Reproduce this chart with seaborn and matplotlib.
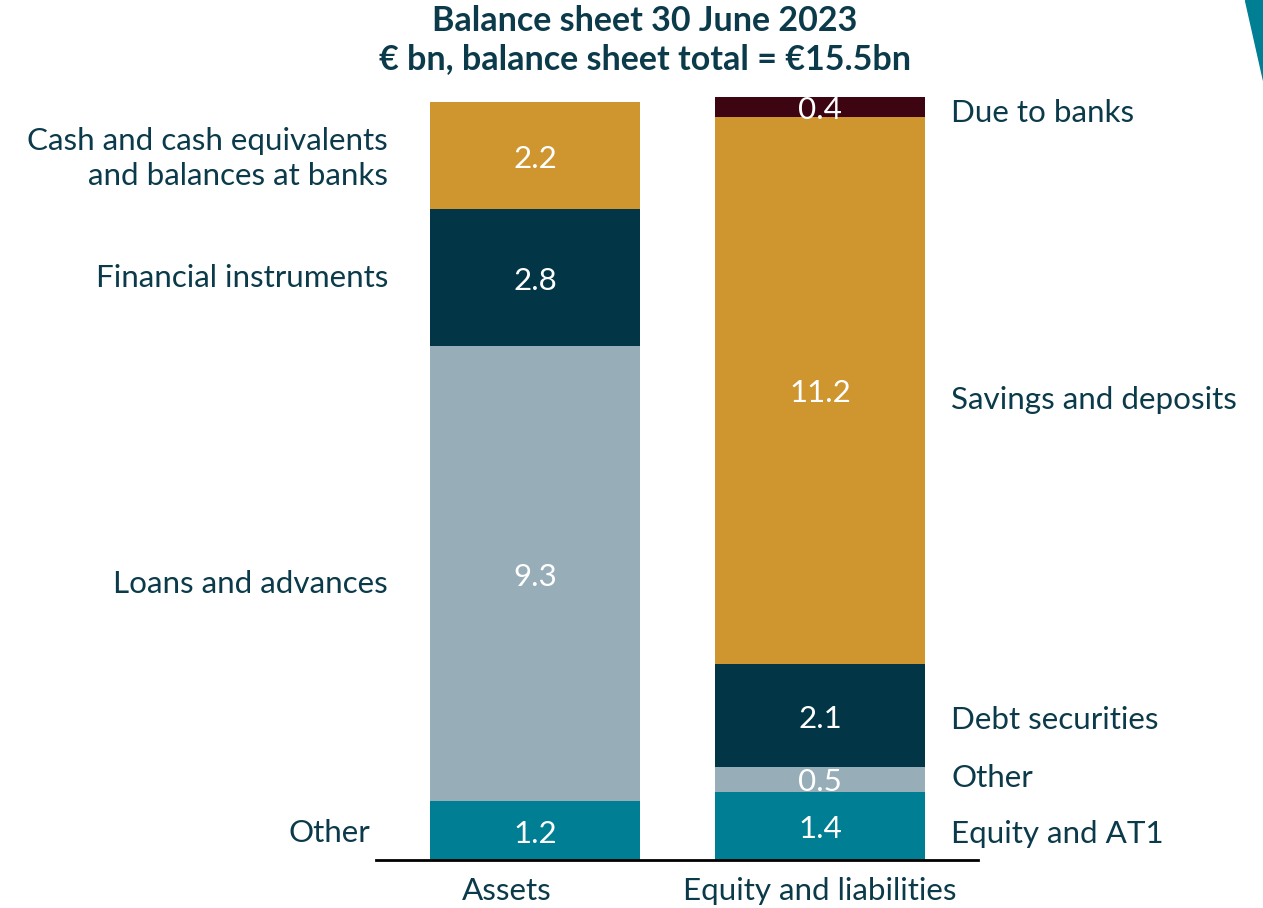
import matplotlib
matplotlib.use("Agg")
import matplotlib.pyplot as plt
import matplotlib.transforms as mtransforms
from matplotlib.patches import Polygon
import seaborn as sns
import numpy as np

columns = ["Assets", "Equity and liabilities"]

# bottom -> top
asset_labels = ["Other", "Loans and advances", "Financial instruments",
                "Cash and cash equivalents\nand balances at banks"]
asset_values = [1.2, 9.3, 2.8, 2.2]
asset_colors = ["#007E93", "#97ADB8", "#023646", "#CF952F"]

liab_labels = ["Equity and AT1", "Other", "Debt securities",
               "Savings and deposits", "Due to banks"]
liab_values = [1.4, 0.5, 2.1, 11.2, 0.4]
liab_colors = ["#007E93", "#97ADB8", "#023646", "#CF952F", "#3D0512"]

title = "Balance sheet 30 June 2023\n€ bn, balance sheet total = €15.5bn"

TXT = "#0B3A4A"
sns.set_theme(style="white")
plt.rcParams["font.family"] = ["Lato", "DejaVu Sans"]

W, H = 1263, 908
fig = plt.figure(figsize=(W / 100, H / 100), dpi=100)
ax = fig.add_axes([376 / W, (H - 860) / H, (978 - 376) / W, (860 - 97) / H])

bw = 0.737
fs = 22.6

# small nudges (pixels) of side labels, bottom -> top
asset_nudge_y = [-2, -10, 0, -3]
asset_nudge_x = [-18, 0, 0, 0]
liab_nudge_y = [-8, 1, -4, -10, -6]

def draw_stack(col_idx, labels, values, colors, side, ny, nx=None):
    tops = np.cumsum(values)
    bottoms = tops - np.array(values)
    for i in range(len(values) - 1, -1, -1):
        sns.barplot(x=[columns[col_idx]], y=[tops[i]], order=columns,
                    color=colors[i], width=bw, saturation=1, ax=ax,
                    edgecolor="none", linewidth=0)
    for i, v in enumerate(values):
        mid = (bottoms[i] + tops[i]) / 2
        ax.annotate(f"{v:.1f}", xy=(col_idx, mid), xytext=(0, -3),
                    textcoords="offset pixels", ha="center", va="center",
                    color="white", fontsize=fs, annotation_clip=False)
        if side == "left":
            ax.annotate(labels[i], xy=(col_idx - bw / 2, mid),
                        xytext=(-42 + nx[i], ny[i]), textcoords="offset pixels",
                        ha="right", va="center", color=TXT, fontsize=fs,
                        linespacing=1.32, annotation_clip=False)
        else:
            ax.annotate(labels[i], xy=(col_idx + bw / 2, mid),
                        xytext=(26, ny[i]), textcoords="offset pixels",
                        ha="left", va="center", color=TXT, fontsize=fs,
                        annotation_clip=False)

draw_stack(0, asset_labels, asset_values, asset_colors, "left",
           asset_nudge_y, asset_nudge_x)
draw_stack(1, liab_labels, liab_values, liab_colors, "right", liab_nudge_y)

ax.set_xlim(-0.558, 1.554)
ax.set_ylim(0, 15.6)
ax.set_yticks([])
ax.set_xlabel("")
ax.set_ylabel("")
for s in ["top", "right", "left"]:
    ax.spines[s].set_visible(False)
ax.spines["bottom"].set_color("black")
ax.spines["bottom"].set_linewidth(2)
ax.tick_params(axis="x", length=0, pad=12, labelsize=fs, labelcolor=TXT)
labs = ax.get_xticklabels()
labs[0].set_transform(labs[0].get_transform() +
                      mtransforms.ScaledTranslation(-0.28, 0, fig.dpi_scale_trans))

fig.text(645 / W, 1 - 40 / H, title, ha="center", va="center",
         fontsize=24.5, fontweight="bold", color=TXT, linespacing=1.2)

tri = Polygon([(1245 / W, 1.0), (1.0, 1.0), (1.0, 1 - 80 / H)],
              closed=True, transform=fig.transFigure, color="#007E93", zorder=10)
fig.patches.append(tri)

fig.savefig("out.png", dpi=100)
